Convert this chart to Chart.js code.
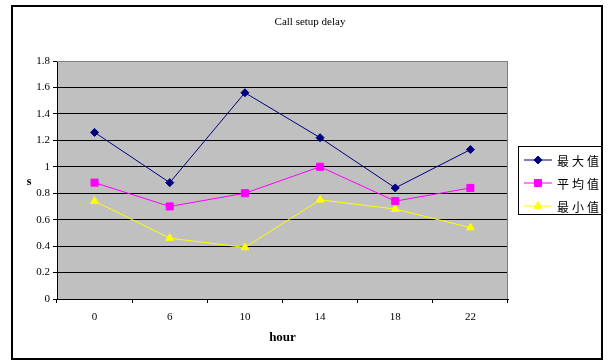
<!DOCTYPE html>
<html>
<head>
<meta charset="utf-8">
<script src="https://cdn.jsdelivr.net/npm/chart.js@4/dist/chart.umd.min.js"></script>
<style>
  html, body { margin: 0; padding: 0; background: #fff; }
  #wrap { width: 608px; height: 361px; }
</style>
</head>
<body>
<div id="wrap"><canvas id="chart" width="608" height="361"></canvas></div>
<script>
const hours = ['0', '6', '10', '14', '18', '22'];
const maxDelay = [1.26, 0.88, 1.56, 1.22, 0.84, 1.13];
const avgDelay = [0.88, 0.70, 0.80, 1.00, 0.74, 0.84];
const minDelay = [0.74, 0.46, 0.39, 0.75, 0.68, 0.54];
const yTickLabels = ['0', '0.2', '0.4', '0.6', '0.8', '1', '1.2', '1.4', '1.6', '1.8'];
const seriesNames = ['最大值', '平均值', '最小值'];

const serif = '"Liberation Serif", "Times New Roman", serif';

// gray plot area, outer frame, title, "s" label and the boxed legend
const excelLook = {
  id: 'excelLook',
  beforeDraw(chart) {
    const { ctx, chartArea: a } = chart;
    ctx.save();
    ctx.fillStyle = '#c0c0c0';
    ctx.fillRect(a.left, a.top, a.right - a.left, a.bottom - a.top);
    ctx.restore();
  },
  beforeDatasetsDraw(chart) {
    const { ctx, chartArea: a } = chart;
    ctx.save();
    ctx.strokeStyle = '#808080';
    ctx.lineWidth = 1;
    ctx.beginPath();
    ctx.moveTo(a.left, a.top + 0.5);
    ctx.lineTo(a.right - 0.5, a.top + 0.5);
    ctx.lineTo(a.right - 0.5, a.bottom);
    ctx.stroke();
    ctx.restore();
  },
  afterDraw(chart) {
    const { ctx } = chart;
    ctx.save();
    // outer frame
    ctx.strokeStyle = '#000';
    ctx.lineWidth = 2;
    ctx.strokeRect(12, 6, 590, 353);

    // title
    ctx.fillStyle = '#000';
    ctx.font = '11px ' + serif;
    ctx.textAlign = 'center';
    ctx.textBaseline = 'middle';
    ctx.fillText('Call setup delay', 310, 22);

    // y axis label, not rotated
    ctx.font = 'bold 12px ' + serif;
    ctx.fillText('s', 29, 182);

    // legend
    ctx.lineWidth = 1;
    ctx.fillStyle = '#fff';
    ctx.fillRect(518.5, 146.5, 83, 68);
    ctx.strokeStyle = '#000';
    ctx.strokeRect(518.5, 146.5, 83, 68);
    chart.data.datasets.forEach((ds, i) => {
      const y = 160 + i * 23;
      ctx.strokeStyle = ds.borderColor;
      ctx.lineWidth = 1;
      ctx.beginPath();
      ctx.moveTo(524, y);
      ctx.lineTo(552, y);
      ctx.stroke();
      ctx.fillStyle = ds.pointBackgroundColor;
      ctx.strokeStyle = ds.borderColor;
      Chart.helpers.drawPoint(ctx, { pointStyle: ds.pointStyle, radius: ds.pointRadius, borderWidth: 1, rotation: 0 }, 538, y);
      ctx.fillStyle = '#000';
      ctx.font = '12px "Noto Sans CJK TC", "Noto Sans CJK SC", sans-serif';
      ctx.textAlign = 'left';
      const name = seriesNames[i];
      for (let k = 0; k < name.length; k++) {
        ctx.fillText(name[k], 557 + k * 15, y + 1);
      }
    });
    ctx.restore();
  }
};

new Chart(document.getElementById('chart'), {
  type: 'line',
  data: {
    labels: hours,
    datasets: [
      {
        label: seriesNames[0],
        data: maxDelay,
        borderColor: '#000080',
        backgroundColor: '#000080',
        pointBackgroundColor: '#000080',
        pointStyle: 'rectRot',
        pointRadius: 4,
        borderWidth: 1
      },
      {
        label: seriesNames[1],
        data: avgDelay,
        borderColor: '#ff00ff',
        backgroundColor: '#ff00ff',
        pointBackgroundColor: '#ff00ff',
        pointStyle: 'rect',
        pointRadius: 5,
        borderWidth: 1
      },
      {
        label: seriesNames[2],
        data: minDelay,
        borderColor: '#ffff00',
        backgroundColor: '#ffff00',
        pointBackgroundColor: '#ffff00',
        pointStyle: 'triangle',
        pointRadius: 4.5,
        borderWidth: 1
      }
    ]
  },
  options: {
    responsive: false,
    animation: false,
    layout: { padding: { left: 12, top: 61, right: 100, bottom: 0 } },
    elements: { line: { tension: 0 }, point: { borderWidth: 1, hoverRadius: 4 } },
    plugins: {
      legend: { display: false },
      title: { display: false },
      tooltip: { enabled: false }
    },
    scales: {
      x: {
        offset: true,
        afterFit(scale) { scale.height = 62; },
        grid: {
          offset: true,
          drawOnChartArea: false,
          drawTicks: true,
          tickLength: 4,
          color: '#000'
        },
        border: { color: '#000', width: 1 },
        ticks: {
          color: '#000',
          padding: 8,
          maxRotation: 0,
          font: { family: serif, size: 11 }
        },
        title: {
          display: true,
          text: 'hour',
          color: '#000',
          font: { family: serif, size: 13, weight: 'bold' },
          padding: { top: 0, bottom: 16 }
        }
      },
      y: {
        min: 0,
        max: 1.8,
        afterFit(scale) { scale.width = 45; },
        grid: {
          color: ctx => (ctx.tick && ctx.tick.value >= 1.8 ? '#808080' : '#000'),
          tickColor: '#000',
          tickLength: 4,
          lineWidth: 1
        },
        border: { color: '#000', width: 1 },
        ticks: {
          stepSize: 0.2,
          color: '#000',
          padding: 3,
          font: { family: serif, size: 11 },
          callback: (value, index) => yTickLabels[index]
        }
      }
    }
  },
  plugins: [excelLook]
});
</script>
</body>
</html>
